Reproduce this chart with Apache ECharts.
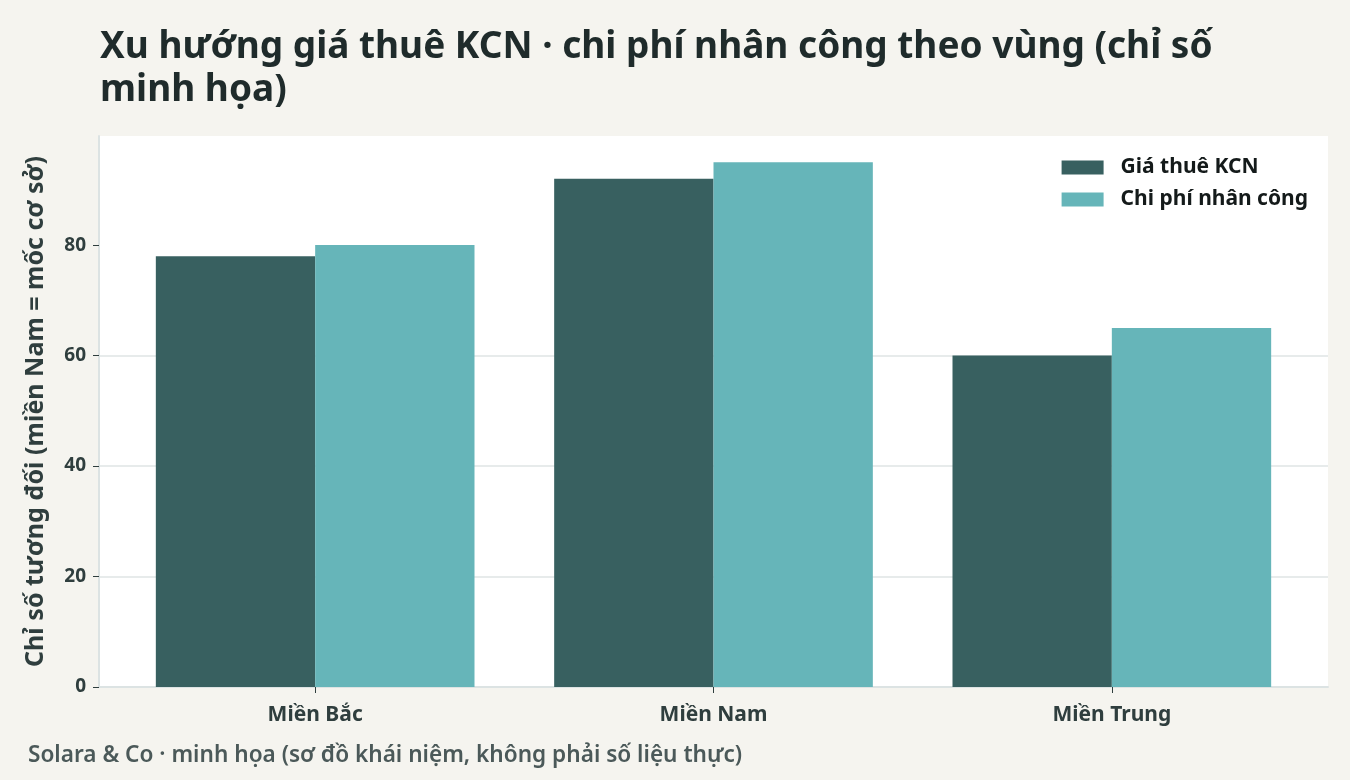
<!DOCTYPE html>
<html>
<head>
<meta charset="utf-8">
<script src="https://cdn.jsdelivr.net/npm/echarts@6/dist/echarts.min.js"></script>
<style>
  html, body { margin: 0; padding: 0; background: #f5f4ef; }
  #chart { width: 1350px; height: 780px; }
</style>
</head>
<body>
<div id="chart"></div>
<script>
const regions = ['Miền Bắc', 'Miền Nam', 'Miền Trung'];
const rentIndex = [78, 92, 60];
const laborIndex = [80, 95, 65];
const yTicks = [0, 20, 40, 60, 80];
const yMax = 99.75;

const FONT = '"Noto Sans", sans-serif';
const INK = '#2f3e3e';

const chart = echarts.init(document.getElementById('chart'));
chart.setOption({
    backgroundColor: '#f5f4ef',
    textStyle: { fontFamily: FONT },
    title: {
        text: 'Xu hướng giá thuê KCN · chi phí nhân công theo vùng (chỉ số\nminh họa)',
        left: 95,
        top: 21,
        textStyle: {
            fontFamily: FONT,
            fontSize: 37,
            fontWeight: 'bold',
            color: '#1f2b2b',
            lineHeight: 43
        }
    },
    graphic: [{
        type: 'text',
        left: 28,
        top: 744,
        style: {
            text: 'Solara & Co · minh họa (sơ đồ khái niệm, không phải số liệu thực)',
            font: '600 22.6px ' + FONT,
            fill: '#4b5959'
        }
    }],
    legend: {
        orient: 'vertical',
        right: 37,
        top: 152,
        icon: 'rect',
        itemWidth: 42,
        itemHeight: 14,
        itemGap: 11,
        textStyle: {
            fontSize: 21, fontWeight: 'bold', color: '#141a1a', fontFamily: FONT,
            padding: [0, 0, 0, 12]
        },
        data: ['Giá thuê KCN', 'Chi phí nhân công']
    },
    // grid 0: full white panel with axis lines and gridlines
    // grid 1: inset panel holding the bars (category padding like the reference)
    grid: [
        { left: 99, right: 22, top: 136, bottom: 93, show: true, backgroundColor: '#ffffff', borderWidth: 0 },
        { left: 116, right: 39, top: 136, bottom: 93 }
    ],
    xAxis: [
        {
            type: 'value',
            gridIndex: 0,
            min: 0,
            max: 1,
            axisLine: { show: true, lineStyle: { color: '#dce3e3', width: 2 } },
            axisTick: { show: false },
            axisLabel: { show: false },
            splitLine: { show: false }
        },
        {
            type: 'category',
            gridIndex: 1,
            data: regions,
            axisLine: { show: false },
            axisTick: { show: true, alignWithLabel: true, length: 6, lineStyle: { color: INK } },
            axisLabel: { fontSize: 21, fontWeight: 'bold', color: INK, margin: 18 }
        }
    ],
    yAxis: [
        {
            type: 'value',
            gridIndex: 0,
            min: 0,
            max: yMax,
            name: 'Chỉ số tương đối (miền Nam = mốc cơ sở)',
            nameLocation: 'middle',
            nameGap: 51,
            nameTextStyle: { fontSize: 25, fontWeight: 'bold', color: INK },
            axisLine: { show: true, lineStyle: { color: '#dce3e3', width: 2 } },
            axisTick: { show: true, length: 6, customValues: yTicks, lineStyle: { color: INK } },
            axisLabel: { fontSize: 19, fontWeight: 'bold', color: INK, margin: 13, customValues: yTicks },
            splitLine: { show: true, showMaxLine: false, showMinLine: false, lineStyle: { color: '#dfe5e5', width: 1.5 } }
        },
        {
            type: 'value',
            gridIndex: 1,
            min: 0,
            max: yMax,
            show: false,
            splitLine: { show: false }
        }
    ],
    series: [
        {
            name: 'Giá thuê KCN',
            type: 'bar',
            xAxisIndex: 1,
            yAxisIndex: 1,
            data: rentIndex,
            barGap: '0%',
            barCategoryGap: '20%',
            itemStyle: { color: '#386060' }
        },
        {
            name: 'Chi phí nhân công',
            type: 'bar',
            xAxisIndex: 1,
            yAxisIndex: 1,
            data: laborIndex,
            itemStyle: { color: '#66b5b9' }
        }
    ]
});
</script>
</body>
</html>
